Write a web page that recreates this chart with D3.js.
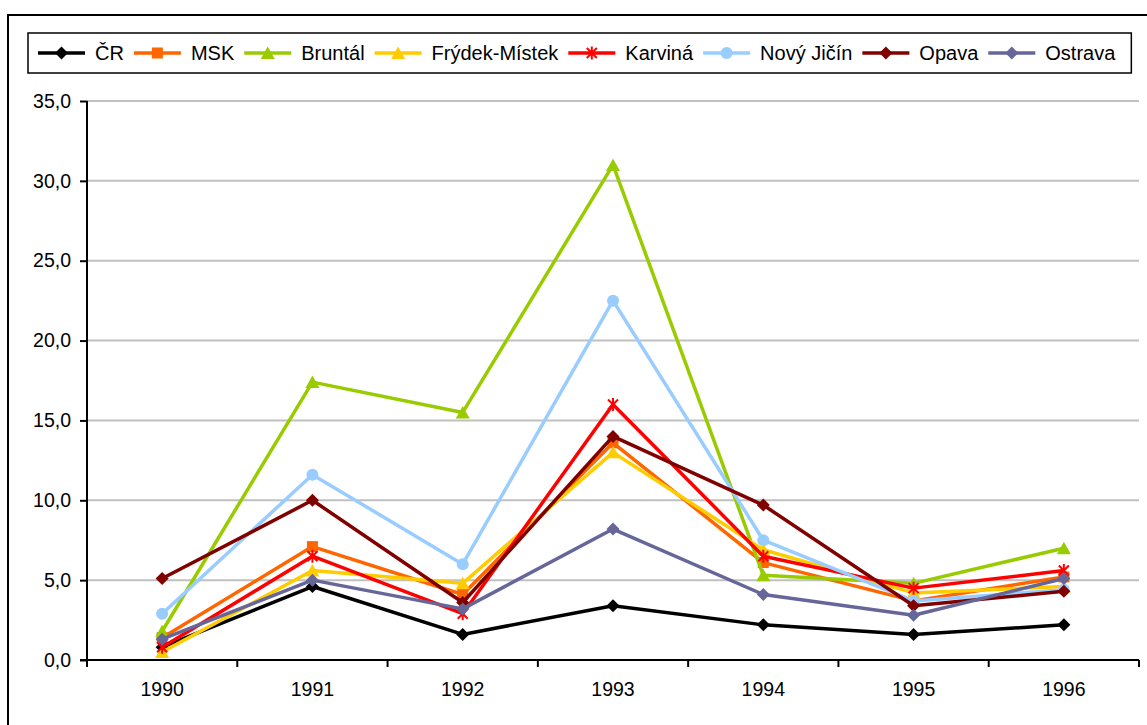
<!DOCTYPE html>
<html>
<head>
<meta charset="utf-8">
<script src="https://cdn.jsdelivr.net/npm/d3@7"></script>
<style>
  body { margin: 0; background: #fff; }
  svg { display: block; font-family: "Liberation Sans", Arial, sans-serif; }
</style>
</head>
<body>
<div id="chart"></div>
<script>
'use strict';

// categories and series
const years = ["1990", "1991", "1992", "1993", "1994", "1995", "1996"];
const seriesNames = ["ČR", "MSK", "Bruntál", "Frýdek-Místek", "Karviná", "Nový Jičín", "Opava", "Ostrava"];
const valCR      = [0.8, 4.6, 1.6, 3.4, 2.2, 1.6, 2.2];
const valMSK     = [1.4, 7.1, 4.1, 13.6, 6.1, 3.7, 5.2];
const valBruntal = [1.8, 17.4, 15.5, 31.0, 5.3, 4.8, 7.0];
const valFrydek  = [0.5, 5.6, 4.8, 13.0, 6.9, 4.2, 4.6];
const valKarvina = [0.8, 6.5, 2.9, 16.0, 6.5, 4.5, 5.6];
const valNJ      = [2.9, 11.6, 6.0, 22.5, 7.5, 3.7, 4.4];
const valOpava   = [5.1, 10.0, 3.6, 14.0, 9.7, 3.4, 4.3];
const valOstrava = [1.3, 5.0, 3.2, 8.2, 4.1, 2.8, 5.1];
const yTicks = [0, 5, 10, 15, 20, 25, 30, 35];

const seriesValues = [valCR, valMSK, valBruntal, valFrydek, valKarvina, valNJ, valOpava, valOstrava];
const colors  = ["#000000", "#FF6600", "#99CC00", "#FFCC00", "#FF0000", "#99CCFF", "#800000", "#666699"];
const markers = ["diamond", "square", "triangle", "triangle", "star", "circle", "diamond", "diamond"];

const W = 1147, H = 725;
const svg = d3.select("#chart").append("svg")
  .attr("width", W).attr("height", H);

// outer chart frame (runs off the right and bottom)
svg.append("rect")
  .attr("x", 8).attr("y", 15)
  .attr("width", 1160).attr("height", 730)
  .attr("fill", "none").attr("stroke", "#000").attr("stroke-width", 2);

const plot = {left: 87, right: 1139, top: 101, bottom: 660};

let x = d3.scaleBand().domain(years).range([plot.left, plot.right]).padding(0);
let y = d3.scaleLinear().domain([0, 35]).range([plot.bottom, plot.top]);

// gridlines
svg.append("g").selectAll("line")
  .data(yTicks.filter(d => d > 0))
  .enter().append("line")
  .attr("x1", plot.left).attr("x2", plot.right)
  .attr("y1", d => y(d)).attr("y2", d => y(d))
  .attr("stroke", "#C0C0C0").attr("stroke-width", 2);

// y axis
let yAxis = svg.append("g")
  .attr("transform", "translate(" + plot.left + ",0)")
  .call(d3.axisLeft(y).tickValues(yTicks).tickSize(7).tickPadding(9)
    .tickFormat(d => d3.format(".1f")(d).replace(".", ",")));
yAxis.select(".domain").attr("stroke-width", 2).attr("d", "M0," + (plot.top) + "V" + (plot.bottom + 4));
yAxis.selectAll(".tick line").attr("stroke-width", 2);
yAxis.selectAll("text").style("font-size", "19.5px").attr("fill", "#000");

// x axis: ticks at band boundaries
let xAxis = svg.append("g")
  .attr("transform", "translate(0," + plot.bottom + ")")
  .call(d3.axisBottom(x).tickSize(0).tickPadding(22));
xAxis.select(".domain").attr("stroke-width", 2).attr("d", "M" + (plot.left - 7) + ",0H" + plot.right);
xAxis.selectAll("text").style("font-size", "19.5px").attr("fill", "#000");
xAxis.append("g").selectAll("line")
  .data(years.map(d => x(d)).concat([plot.right]))
  .enter().append("line")
  .attr("x1", d => d).attr("x2", d => d)
  .attr("y1", 0).attr("y2", 7)
  .attr("stroke", "#000").attr("stroke-width", 2);

function drawMarker(g, type, color) {
  if (type === "diamond") {
    g.append("path").attr("d", "M0,-6.5L6.5,0L0,6.5L-6.5,0Z").attr("fill", color);
  } else if (type === "square") {
    g.append("rect").attr("x", -5.5).attr("y", -5.5).attr("width", 11).attr("height", 11).attr("fill", color);
  } else if (type === "triangle") {
    g.append("path").attr("d", "M0,-6.5L7,6L-7,6Z").attr("fill", color);
  } else if (type === "circle") {
    g.append("circle").attr("r", 6).attr("fill", color);
  } else if (type === "star") {
    g.append("path").attr("d", "M-5,-5L5,5M-5,5L5,-5M0,-6.5V6.5")
      .attr("stroke", color).attr("stroke-width", 2).attr("fill", "none");
  }
}

const line = d3.line()
  .x((d, i) => x(years[i]) + x.bandwidth() / 2)
  .y(d => y(d));

// series, first one at the bottom
seriesValues.forEach(function(vals, s) {
  let g = svg.append("g").attr("class", "series");
  g.append("path")
    .attr("d", line(vals))
    .attr("fill", "none")
    .attr("stroke", colors[s])
    .attr("stroke-width", 3.5)
    .attr("stroke-linejoin", "round");
  vals.forEach(function(v, i) {
    let m = g.append("g")
      .attr("transform", "translate(" + (x(years[i]) + x.bandwidth() / 2) + "," + y(v) + ")");
    drawMarker(m, markers[s], colors[s]);
  });
});

// legend
let legendBox = svg.append("rect")
  .attr("y", 33).attr("height", 40)
  .attr("fill", "#fff").attr("stroke", "#000").attr("stroke-width", 1.5);
let legend = svg.append("g");
let lx = 38;
seriesNames.forEach(function(name, s) {
  let it = legend.append("g").attr("transform", "translate(" + lx + ",53)");
  it.append("line").attr("x1", 0).attr("x2", 47).attr("y1", 0).attr("y2", 0)
    .attr("stroke", colors[s]).attr("stroke-width", 3.5);
  drawMarker(it.append("g").attr("transform", "translate(23.5,0)"), markers[s], colors[s]);
  let t = it.append("text").attr("x", 57).attr("y", 0).attr("dy", "0.35em")
    .style("font-size", "20px").text(name);
  lx += 57 + t.node().getComputedTextLength() + 10;
});
legendBox.attr("x", 28).attr("width", lx - 28 + 6);
legend.raise();
</script>
</body>
</html>
